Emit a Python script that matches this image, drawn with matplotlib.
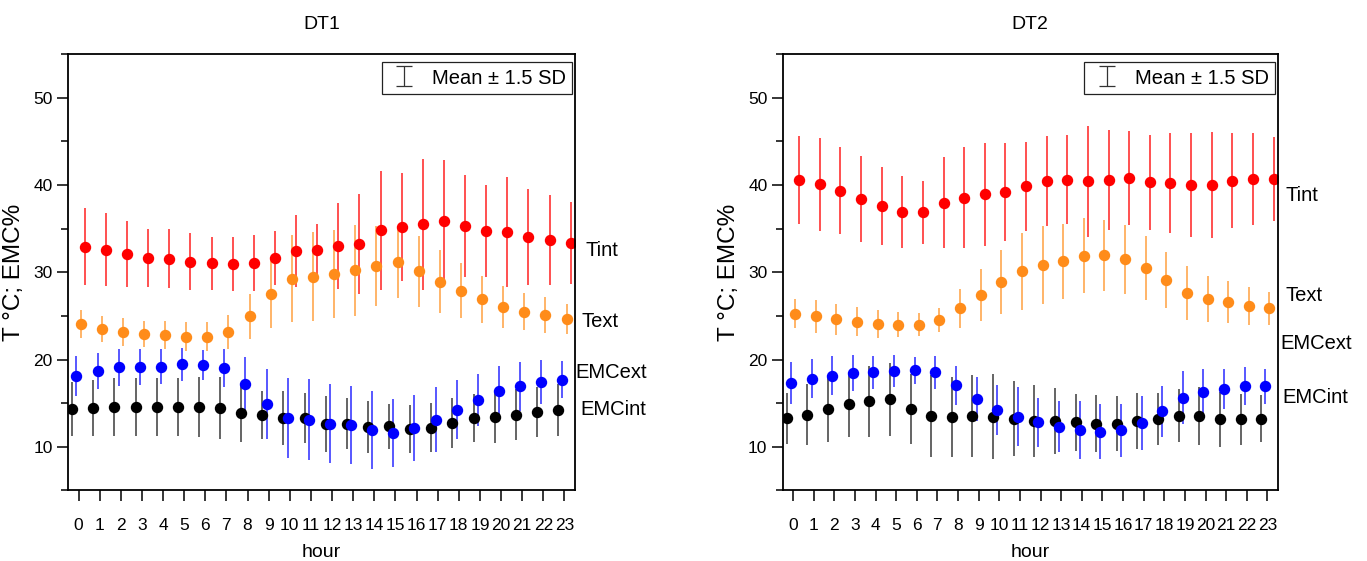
import matplotlib
matplotlib.use("Agg")
import matplotlib.pyplot as plt
from matplotlib.ticker import MultipleLocator
import numpy as np

plt.rcParams['font.family'] = ['Liberation Sans', 'DejaVu Sans']

hours = np.arange(24)

# DT1 - mean values and half-length of the bars (1.5 SD)
dt1_tint = [32.9, 32.6, 32.1, 31.6, 31.55, 31.2, 31.0, 30.9, 31.05, 31.6, 32.45, 32.5,
            33.0, 33.25, 34.8, 35.2, 35.5, 35.85, 35.3, 34.7, 34.6, 34.05, 33.7, 33.3]
dt1_tint_e = [4.4, 4.2, 3.75, 3.3, 3.4, 3.25, 3.0, 3.1, 3.2, 3.1, 4.1, 3.0,
              4.9, 5.7, 6.8, 6.2, 7.5, 7.0, 5.8, 5.3, 6.3, 5.5, 5.2, 4.7]
dt1_text = [24.05, 23.5, 23.15, 22.9, 22.8, 22.6, 22.6, 23.15, 24.95, 27.5, 29.25, 29.5,
            29.75, 30.2, 30.7, 31.15, 30.1, 28.9, 27.9, 26.9, 26.05, 25.5, 25.1, 24.65]
dt1_text_e = [1.6, 1.5, 1.6, 1.5, 1.6, 1.65, 1.65, 2.0, 2.55, 3.9, 5.0, 5.1,
              5.05, 5.2, 4.6, 4.1, 4.1, 3.6, 3.1, 2.7, 2.4, 2.1, 2.1, 1.75]
dt1_emcext = [18.1, 18.7, 19.1, 19.15, 19.2, 19.45, 19.4, 19.05, 17.2, 14.9, 13.3, 13.1,
              12.65, 12.5, 11.95, 11.55, 12.15, 13.1, 14.25, 15.35, 16.4, 16.95, 17.4, 17.7]
dt1_emcext_e = [2.3, 2.1, 2.1, 2.1, 2.0, 1.9, 1.7, 2.15, 3.1, 4.0, 4.6, 4.65,
                4.5, 4.45, 4.45, 3.9, 3.8, 3.7, 3.4, 3.0, 2.9, 2.8, 2.55, 2.15]
dt1_emcint = [14.3, 14.45, 14.55, 14.55, 14.55, 14.55, 14.55, 14.45, 13.9, 13.65, 13.3, 13.3,
              12.65, 12.65, 12.3, 12.35, 12.05, 12.2, 12.75, 13.25, 13.4, 13.7, 14.0, 14.25]
dt1_emcint_e = [3.1, 3.2, 3.3, 3.35, 3.3, 3.35, 3.4, 3.5, 3.3, 2.8, 3.1, 2.9,
                3.2, 2.9, 3.0, 2.6, 2.7, 2.8, 2.9, 2.75, 3.0, 2.9, 2.9, 3.0]

# DT2
dt2_tint = [40.55, 40.05, 39.35, 38.4, 37.55, 36.9, 36.85, 37.95, 38.55, 38.95, 39.15, 39.85,
            40.45, 40.6, 40.4, 40.55, 40.8, 40.3, 40.2, 40.0, 40.0, 40.5, 40.7, 40.7]
dt2_tint_e = [5.0, 5.3, 5.0, 4.9, 4.45, 4.15, 3.65, 5.2, 5.8, 5.9, 5.6, 5.1,
              5.1, 5.1, 6.35, 5.75, 5.35, 5.45, 5.7, 5.95, 6.05, 5.45, 5.3, 4.8]
dt2_text = [25.25, 24.95, 24.6, 24.35, 24.1, 24.0, 24.0, 24.5, 25.85, 27.4, 28.9, 30.1,
            30.8, 31.25, 31.9, 31.95, 31.5, 30.5, 29.1, 27.6, 26.9, 26.6, 26.15, 25.85]
dt2_text_e = [1.65, 1.9, 1.8, 1.65, 1.6, 1.4, 1.3, 1.4, 2.2, 3.0, 3.7, 4.4,
              4.45, 4.3, 4.3, 4.05, 3.95, 3.65, 3.2, 3.1, 2.65, 2.4, 2.15, 1.9]
dt2_emcext = [17.3, 17.8, 18.15, 18.45, 18.55, 18.7, 18.75, 18.55, 17.05, 15.5, 14.2, 13.45,
              12.8, 12.3, 11.95, 11.75, 11.9, 12.75, 14.05, 15.65, 16.3, 16.65, 16.95, 16.95]
dt2_emcext_e = [2.4, 2.25, 2.2, 2.05, 1.9, 1.8, 1.5, 1.9, 2.25, 2.55, 2.85, 3.4,
                2.8, 2.9, 3.3, 3.2, 3.05, 3.1, 2.9, 3.0, 2.6, 2.3, 2.2, 2.0]
dt2_emcint = [13.25, 13.7, 14.3, 14.85, 15.2, 15.45, 14.3, 13.55, 13.4, 13.5, 13.45, 13.2,
              12.95, 12.95, 12.8, 12.65, 12.65, 13.0, 13.2, 13.55, 13.55, 13.15, 13.15, 13.2]
dt2_emcint_e = [2.95, 3.5, 3.8, 3.75, 4.05, 4.2, 4.0, 4.7, 4.6, 4.7, 4.9, 4.3,
                4.1, 3.75, 3.25, 3.25, 3.15, 3.2, 3.0, 3.05, 3.3, 3.15, 2.9, 2.7]

series_names = ['EMCint', 'EMCext', 'Text', 'Tint']
colors = {'EMCint': 'black', 'EMCext': '#0000ff', 'Text': '#ff8c1a', 'Tint': '#ff0000'}
bar_colors = {'EMCint': '#3a3a3a', 'EMCext': '#2a2aff', 'Text': '#ffa040', 'Tint': '#ff2020'}
dodge = {'EMCint': -0.3, 'EMCext': -0.1, 'Text': 0.1, 'Tint': 0.3}

panels = [
    ('DT1', {'EMCint': (dt1_emcint, dt1_emcint_e), 'EMCext': (dt1_emcext, dt1_emcext_e),
             'Text': (dt1_text, dt1_text_e), 'Tint': (dt1_tint, dt1_tint_e)},
     {'Tint': (1.02, 32.5), 'Text': (1.012, 24.35), 'EMCext': (1.0, 18.5), 'EMCint': (1.01, 14.25)}),
    ('DT2', {'EMCint': (dt2_emcint, dt2_emcint_e), 'EMCext': (dt2_emcext, dt2_emcext_e),
             'Text': (dt2_text, dt2_text_e), 'Tint': (dt2_tint, dt2_tint_e)},
     {'Tint': (1.016, 38.8), 'Text': (1.016, 27.3), 'EMCext': (1.006, 21.8), 'EMCint': (1.01, 15.6)}),
]

fig = plt.figure(figsize=(13.67, 5.61), dpi=100)
rects = [[0.0497, 0.1257, 0.3709, 0.7781], [0.5726, 0.1257, 0.3621, 0.7781]]

for rect, (title, data, label_pos) in zip(rects, panels):
    ax = fig.add_axes(rect)
    for name in series_names:
        vals, err = data[name]
        ax.errorbar(hours + dodge[name], vals, yerr=err, fmt='o', color=colors[name],
                    ecolor=bar_colors[name], elinewidth=1.1, markersize=7.2, capsize=0)
        lx, ly = label_pos[name]
        ax.annotate(name, xy=(lx, ly), xycoords=('axes fraction', 'data'),
                    fontsize=14.5, va='center', ha='left', annotation_clip=False)

    # legend with an error bar symbol only (proxy drawn off-screen with nan)
    proxy = ax.errorbar([np.nan], [np.nan], yerr=[1.0], fmt='none', ecolor='#333333',
                        elinewidth=0.9, capsize=6, capthick=0.9, label='Mean ± 1.5 SD')
    leg = ax.legend(handles=[proxy], loc='upper right', bbox_to_anchor=(0.994, 0.982),
                    borderaxespad=0, fancybox=False, framealpha=1, edgecolor='#222222',
                    fontsize=14.5, handlelength=1.6, borderpad=0.3, handletextpad=0.6,
                    handleheight=1.1)
    leg.get_frame().set_linewidth(0.9)

    ax.set_xlim(-0.5, 23.5)
    ax.set_ylim(5, 55)
    ax.set_xticks(hours)
    ax.set_xticklabels([str(h) for h in hours])
    ax.yaxis.set_minor_locator(MultipleLocator(5))
    ax.set_yticks([10, 20, 30, 40, 50])
    ax.tick_params(axis='both', which='major', direction='out', length=8, width=1.1,
                   labelsize=12.5, pad=3)
    ax.tick_params(axis='x', pad=12)
    ax.tick_params(axis='y', which='minor', direction='out', length=5, width=1.1)
    ax.tick_params(top=False, right=False)
    for sp in ax.spines.values():
        sp.set_linewidth(1.3)
    ax.set_title(title, fontsize=14, pad=18)
    ax.set_xlabel('hour', fontsize=14, labelpad=8)
    ax.set_ylabel('T °C; EMC%', fontsize=17.5, labelpad=6)

fig.savefig('out.png', dpi=100)
